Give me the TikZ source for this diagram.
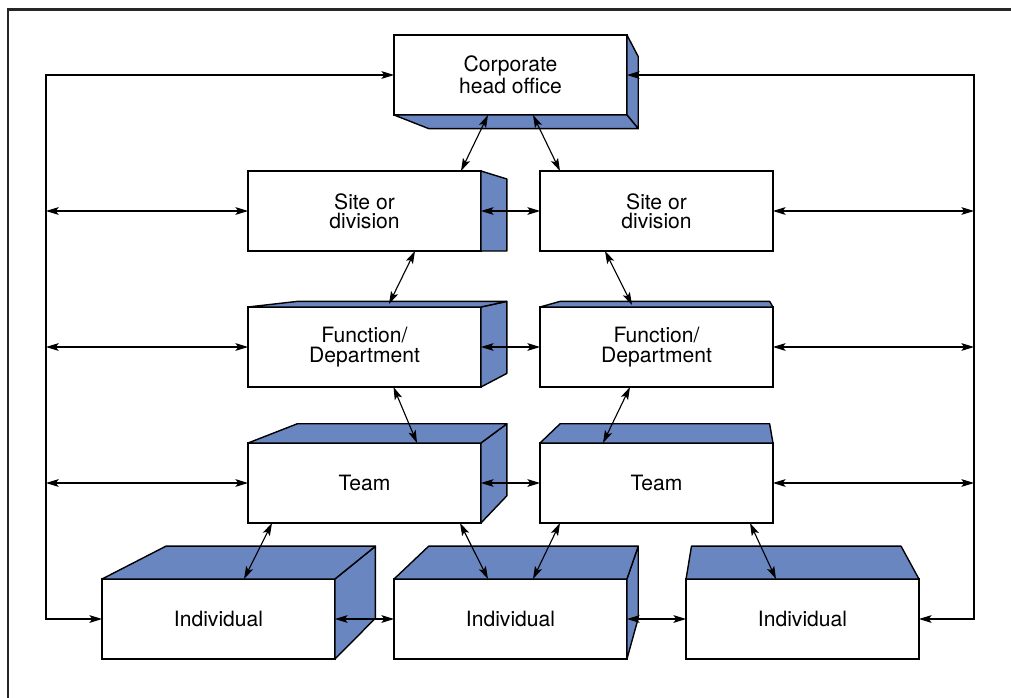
\documentclass[tikz,border=0pt]{standalone}
\usepackage{fontspec}
\setmainfont{TeX Gyre Heros}
\usepackage{tikz}
\usetikzlibrary{arrows.meta, calc}
\usepackage{xcolor}
\definecolor{sideblue}{RGB}{106,134,193}

\newcommand{\rightface}[1]{\filldraw[face] (#1.north east) -- ($(vp)!0.9!(#1.north east)$) -- ($(vp)!0.9!(#1.south east)$) -- (#1.south east) -- cycle;}
\newcommand{\topface}[1]{\filldraw[face] (#1.north west) -- ($(vp)!0.9!(#1.north west)$) -- ($(vp)!0.9!(#1.north east)$) -- (#1.north east) -- cycle;}
\newcommand{\bottomface}[1]{\filldraw[face] (#1.south west) -- ($(vp)!0.9!(#1.south west)$) -- ($(vp)!0.9!(#1.south east)$) -- (#1.south east) -- cycle;}

\begin{document}
\begin{tikzpicture}[x=0.025cm, y=-0.025cm,
  >={Stealth[length=9pt,width=5.5pt,inset=2pt]},
  box/.style={draw, fill=white, line width=1pt, inner sep=0pt, outer sep=0pt,
    minimum width=5.82cm, minimum height=2cm, align=center,
    font=\fontsize{15}{13.8}\selectfont},
  face/.style={fill=sideblue, draw=black, line width=1pt, line join=round},
  link/.style={<->, line width=0.8pt}]
  \useasboundingbox (0,0) rectangle (1011,697);
  \draw[line width=1.6pt, black!85] (8,705) -- (8,9.5) -- (1020,9.5);

  % vanishing point of the boxes
  \coordinate (vp) at (740,251);
  \coordinate (lb) at (46,619);
  \coordinate (rb) at (974,619);

  \node[box] (corp) at (510.5,75) {Corporate\\head office};
  \node[box] (siteL) at (364.5,211) {Site or\\division};
  \node[box] (siteR) at (656.5,211) {Site or\\division};
  \node[box] (funcL) at (364.5,347) {Function/\\Department};
  \node[box] (funcR) at (656.5,347) {Function/\\Department};
  \node[box] (teamL) at (364.5,483) {Team};
  \node[box] (teamR) at (656.5,483) {Team};
  \node[box] (indL) at (218.5,619) {Individual};
  \node[box] (indM) at (510.5,619) {Individual};
  \node[box] (indR) at (802.5,619) {Individual};

  % sides in perspective
  \rightface{corp} \bottomface{corp}
  \rightface{siteL}
  \rightface{funcL} \topface{funcL}
  \topface{funcR}
  \rightface{teamL} \topface{teamL}
  \topface{teamR}
  \rightface{indL} \topface{indL}
  \rightface{indM} \topface{indM}
  \topface{indR}

  % outer loops
  \draw[link] (corp.west) -| (lb) -- (indL.west);
  \draw[link] (corp.east) -| (rb) -- (indR.east);
  \draw[link] (siteL.west -| lb) -- (siteL.west);
  \draw[link] (funcL.west -| lb) -- (funcL.west);
  \draw[link] (teamL.west -| lb) -- (teamL.west);
  \draw[link] (siteR.east) -- (siteR.east -| rb);
  \draw[link] (funcR.east) -- (funcR.east -| rb);
  \draw[link] (teamR.east) -- (teamR.east -| rb);

  % across
  \draw[link] (siteL.east) -- (siteR.west);
  \draw[link] (funcL.east) -- (funcR.west);
  \draw[link] (teamL.east) -- (teamR.west);
  \draw[link] (indL.east) -- (indM.west);
  \draw[link] (indM.east) -- (indR.west);

  % down the levels
  \draw[link] ($(corp.south)+(-22.5,0)$) -- ($(siteL.north)+(96.5,0)$);
  \draw[link] ($(corp.south)+(22.5,0)$) -- ($(siteR.north)+(-96.5,0)$);
  \draw[link] ($(siteL.south)+(50.5,0)$) -- ($(funcL.north)+(24.5,-3)$);
  \draw[link] ($(siteR.south)+(-51.5,0)$) -- ($(funcR.north)+(-24.5,-2)$);
  \draw[link] ($(funcL.south)+(29,0)$) -- ($(teamL.north)+(52.5,0)$);
  \draw[link] ($(funcR.south)+(-26.5,0)$) -- ($(teamR.north)+(-53.5,0)$);
  \draw[link] ($(teamL.south)+(-92.5,0)$) -- ($(indL.north)+(25.5,0)$);
  \draw[link] ($(teamL.south)+(95.5,0)$) -- ($(indM.north)+(-22.5,0)$);
  \draw[link] ($(teamR.south)+(-96.5,0)$) -- ($(indM.north)+(22.5,0)$);
  \draw[link] ($(teamR.south)+(93.5,0)$) -- ($(indR.north)+(-26.5,0)$);
\end{tikzpicture}
\end{document}
